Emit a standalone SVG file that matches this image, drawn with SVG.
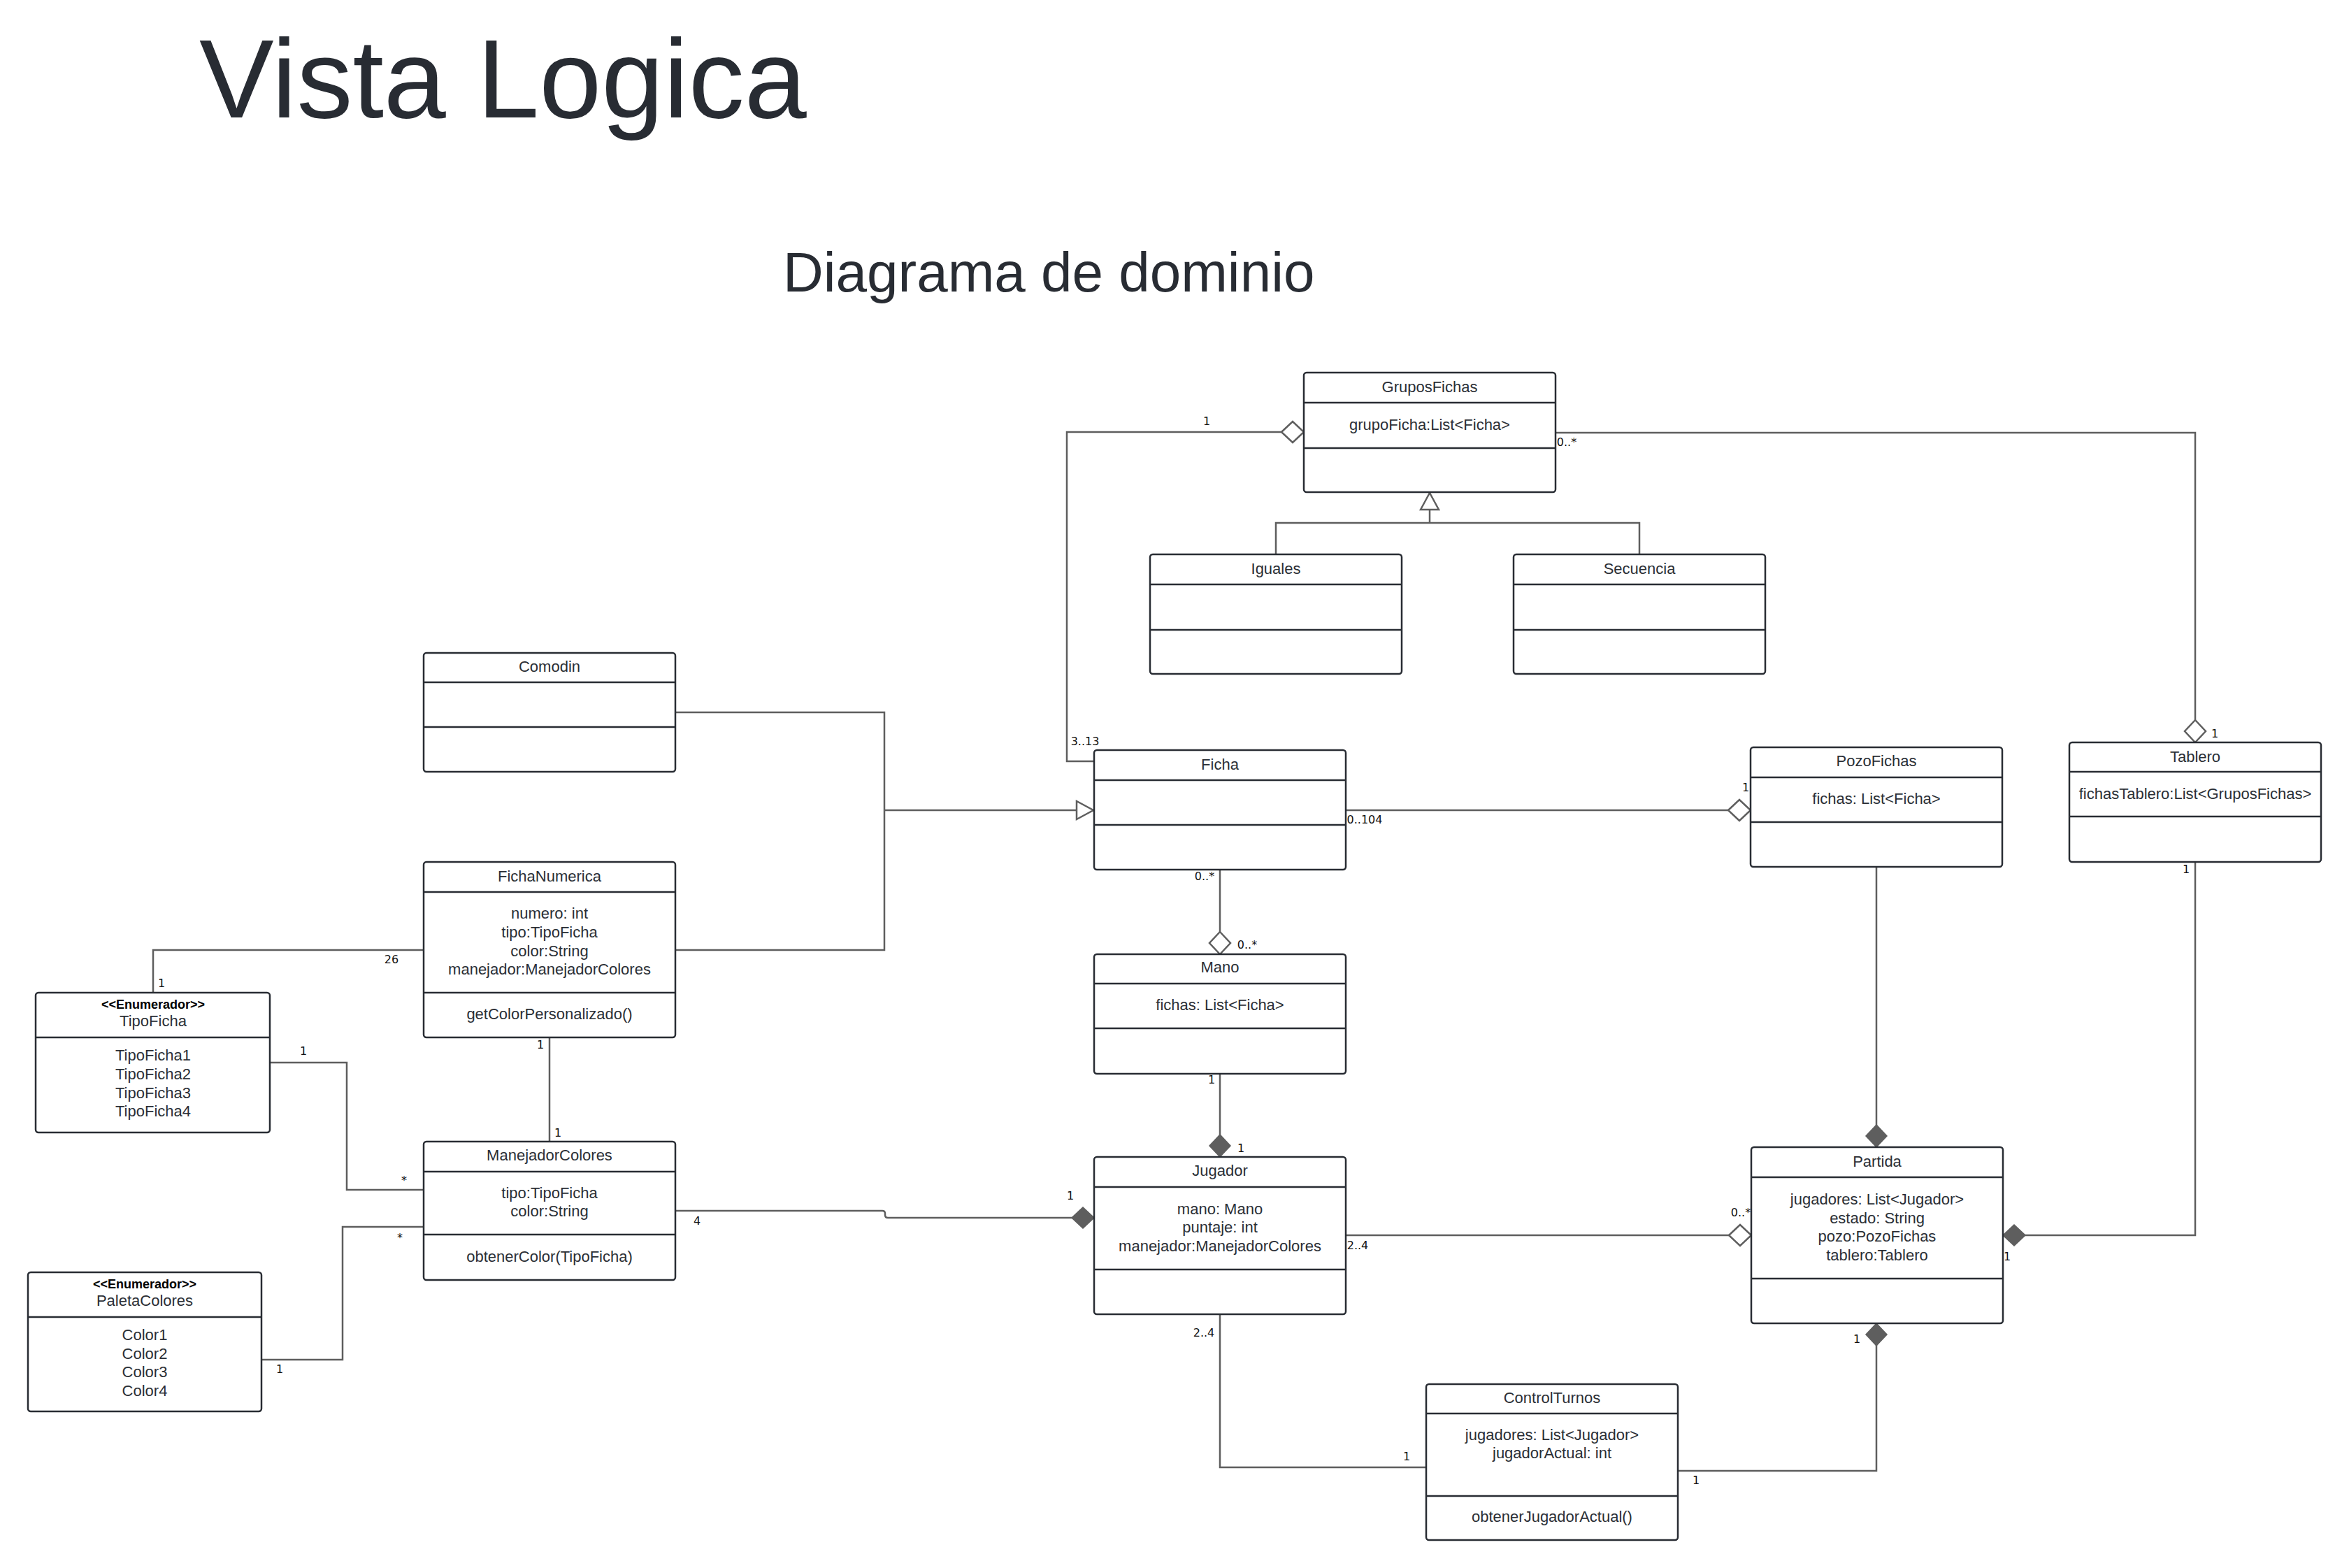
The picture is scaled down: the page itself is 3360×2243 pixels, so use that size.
<svg xmlns="http://www.w3.org/2000/svg" width="3360" height="2243" viewBox="0 0 3360 2243">
<style>
.box{fill:#fff;stroke:#282c33;stroke-width:2.5}
.sep{stroke:#282c33;stroke-width:2.5}
.t{font-family:"Liberation Sans",Arial,sans-serif;font-size:22px;fill:#2b2f36;text-anchor:middle;dominant-baseline:central}
.st{font-family:"Liberation Sans",Arial,sans-serif;font-size:18px;font-weight:bold;fill:#000;text-anchor:middle;dominant-baseline:central}
.conn path{fill:none;stroke:#5e5e5e;stroke-width:2.5}
.m{font-family:"DejaVu Sans","Liberation Sans",sans-serif;font-size:16px;fill:#111;text-anchor:middle;dominant-baseline:central}
.title{font-family:"Liberation Sans",Arial,sans-serif;fill:#282c33}
</style>
<defs>
<marker id="dOpen" viewBox="0 0 32 30" refX="32" refY="15" markerWidth="32" markerHeight="30" markerUnits="userSpaceOnUse" orient="auto" overflow="visible">
<path d="M0,15 L16,0 L32,15 L16,30 Z" fill="#fff" stroke="#5e5e5e" stroke-width="2.5"/>
</marker>
<marker id="dFill" viewBox="0 0 32 30" refX="32" refY="15" markerWidth="32" markerHeight="30" markerUnits="userSpaceOnUse" orient="auto" overflow="visible">
<path d="M0,15 L16,0 L32,15 L16,30 Z" fill="#5e5e5e" stroke="#5e5e5e" stroke-width="1.5"/>
</marker>
<marker id="tri" viewBox="0 0 26 28" refX="26" refY="14" markerWidth="26" markerHeight="28" markerUnits="userSpaceOnUse" orient="auto" overflow="visible">
<path d="M1,1 L25,14 L1,27 Z" fill="#fff" stroke="#5e5e5e" stroke-width="2.5"/>
</marker>
</defs>
<rect width="3360" height="2243" fill="#fff"/>
<text class="title" x="285" y="168" font-size="160">Vista Logica</text>
<text class="title" x="1120" y="417" font-size="80">Diagrama de dominio</text>

<g id="connectors" class="conn">
<path d="M1565,1089 H1526 V618 H1865" marker-end="url(#dOpen)"/>
<path d="M2225,619 H3140 V1062" marker-end="url(#dOpen)"/>
<path d="M1825,793 V748 H2345 V793"/>
<path d="M2045,748 V704" marker-end="url(#tri)"/>
<path d="M966,1019 H1265 V1359 H966"/>
<path d="M1265,1159 H1565" marker-end="url(#tri)"/>
<path d="M1925,1159 H2504" marker-end="url(#dOpen)"/>
<path d="M1745,1244 V1365" marker-end="url(#dOpen)"/>
<path d="M1745,1536 V1655" marker-end="url(#dFill)"/>
<path d="M219,1420 V1359 H606"/>
<path d="M786,1484 V1633"/>
<path d="M386,1520 H496 V1702 H606"/>
<path d="M374,1945 H490 V1755 H606"/>
<path d="M966,1732 H1262 Q1266,1732 1266,1736 V1738 Q1266,1742 1270,1742 H1565" marker-end="url(#dFill)"/>
<path d="M1925,1767 H2505" marker-end="url(#dOpen)"/>
<path d="M2684,1240 V1641" marker-end="url(#dFill)"/>
<path d="M3140,1233 V1767 H2865" marker-end="url(#dFill)"/>
<path d="M1745,1880 V2099 H2040"/>
<path d="M2400,2104 H2684 V1893" marker-end="url(#dFill)"/>
</g>

<g id="labels">
<text class="m" x="1726" y="602">1</text>
<text class="m" x="1552" y="1060">3..13</text>
<text class="m" x="2241" y="632">0..*</text>
<text class="m" x="3168" y="1049">1</text>
<text class="m" x="1952" y="1172">0..104</text>
<text class="m" x="2497" y="1126">1</text>
<text class="m" x="1723" y="1253">0..*</text>
<text class="m" x="1784" y="1351">0..*</text>
<text class="m" x="1733" y="1544">1</text>
<text class="m" x="1775" y="1642">1</text>
<text class="m" x="231" y="1406">1</text>
<text class="m" x="560" y="1372">26</text>
<text class="m" x="773" y="1494">1</text>
<text class="m" x="798" y="1620">1</text>
<text class="m" x="434" y="1503">1</text>
<text class="m" x="578" y="1688">*</text>
<text class="m" x="400" y="1958">1</text>
<text class="m" x="572" y="1770">*</text>
<text class="m" x="997" y="1746">4</text>
<text class="m" x="1531" y="1710">1</text>
<text class="m" x="1942" y="1781">2..4</text>
<text class="m" x="2490" y="1734">0..*</text>
<text class="m" x="3127" y="1243">1</text>
<text class="m" x="2871" y="1797">1</text>
<text class="m" x="1722" y="1906">2..4</text>
<text class="m" x="2012" y="2083">1</text>
<text class="m" x="2426" y="2117">1</text>
<text class="m" x="2656" y="1915">1</text>
</g>

<g id="GruposFichas">
<rect class="box" x="1865" y="533" width="360" height="171" rx="4"/>
<line class="sep" x1="1865" y1="576" x2="2225" y2="576"/>
<line class="sep" x1="1865" y1="641" x2="2225" y2="641"/>
<text class="t" x="2045" y="553">GruposFichas</text>
<text class="t" x="2045" y="607">grupoFicha:List&lt;Ficha&gt;</text>
</g>

<g id="Iguales">
<rect class="box" x="1645" y="793" width="360" height="171" rx="4"/>
<line class="sep" x1="1645" y1="836" x2="2005" y2="836"/>
<line class="sep" x1="1645" y1="901" x2="2005" y2="901"/>
<text class="t" x="1825" y="813">Iguales</text>
</g>

<g id="Secuencia">
<rect class="box" x="2165" y="793" width="360" height="171" rx="4"/>
<line class="sep" x1="2165" y1="836" x2="2525" y2="836"/>
<line class="sep" x1="2165" y1="901" x2="2525" y2="901"/>
<text class="t" x="2345" y="813">Secuencia</text>
</g>

<g id="Comodin">
<rect class="box" x="606" y="934" width="360" height="170" rx="4"/>
<line class="sep" x1="606" y1="976" x2="966" y2="976"/>
<line class="sep" x1="606" y1="1040" x2="966" y2="1040"/>
<text class="t" x="786" y="953">Comodin</text>
</g>

<g id="Ficha">
<rect class="box" x="1565" y="1073" width="360" height="171" rx="4"/>
<line class="sep" x1="1565" y1="1116" x2="1925" y2="1116"/>
<line class="sep" x1="1565" y1="1180" x2="1925" y2="1180"/>
<text class="t" x="1745" y="1093">Ficha</text>
</g>

<g id="PozoFichas">
<rect class="box" x="2504" y="1069" width="360" height="171" rx="4"/>
<line class="sep" x1="2504" y1="1112" x2="2864" y2="1112"/>
<line class="sep" x1="2504" y1="1176" x2="2864" y2="1176"/>
<text class="t" x="2684" y="1088">PozoFichas</text>
<text class="t" x="2684" y="1142">fichas: List&lt;Ficha&gt;</text>
</g>

<g id="Tablero">
<rect class="box" x="2960" y="1062" width="360" height="171" rx="4"/>
<line class="sep" x1="2960" y1="1104" x2="3320" y2="1104"/>
<line class="sep" x1="2960" y1="1168" x2="3320" y2="1168"/>
<text class="t" x="3140" y="1082">Tablero</text>
<text class="t" x="3140" y="1135">fichasTablero:List&lt;GruposFichas&gt;</text>
</g>

<g id="FichaNumerica">
<rect class="box" x="606" y="1233" width="360" height="251" rx="4"/>
<line class="sep" x1="606" y1="1276" x2="966" y2="1276"/>
<line class="sep" x1="606" y1="1420" x2="966" y2="1420"/>
<text class="t" x="786" y="1253">FichaNumerica</text>
<text class="t" x="786" y="1306">numero: int</text>
<text class="t" x="786" y="1333">tipo:TipoFicha</text>
<text class="t" x="786" y="1360">color:String</text>
<text class="t" x="786" y="1386">manejador:ManejadorColores</text>
<text class="t" x="786" y="1450">getColorPersonalizado()</text>
</g>

<g id="Mano">
<rect class="box" x="1565" y="1365" width="360" height="171" rx="4"/>
<line class="sep" x1="1565" y1="1407" x2="1925" y2="1407"/>
<line class="sep" x1="1565" y1="1471" x2="1925" y2="1471"/>
<text class="t" x="1745" y="1383">Mano</text>
<text class="t" x="1745" y="1437">fichas: List&lt;Ficha&gt;</text>
</g>

<g id="TipoFicha">
<rect class="box" x="51" y="1420" width="335" height="200" rx="4"/>
<line class="sep" x1="51" y1="1484" x2="386" y2="1484"/>
<text class="st" x="219" y="1437">&lt;&lt;Enumerador&gt;&gt;</text>
<text class="t" x="219" y="1460">TipoFicha</text>
<text class="t" x="219" y="1509">TipoFicha1</text>
<text class="t" x="219" y="1536">TipoFicha2</text>
<text class="t" x="219" y="1563">TipoFicha3</text>
<text class="t" x="219" y="1589">TipoFicha4</text>
</g>

<g id="ManejadorColores">
<rect class="box" x="606" y="1633" width="360" height="198" rx="4"/>
<line class="sep" x1="606" y1="1676" x2="966" y2="1676"/>
<line class="sep" x1="606" y1="1766" x2="966" y2="1766"/>
<text class="t" x="786" y="1652">ManejadorColores</text>
<text class="t" x="786" y="1706">tipo:TipoFicha</text>
<text class="t" x="786" y="1732">color:String</text>
<text class="t" x="786" y="1797">obtenerColor(TipoFicha)</text>
</g>

<g id="Jugador">
<rect class="box" x="1565" y="1655" width="360" height="225" rx="4"/>
<line class="sep" x1="1565" y1="1698" x2="1925" y2="1698"/>
<line class="sep" x1="1565" y1="1816" x2="1925" y2="1816"/>
<text class="t" x="1745" y="1674">Jugador</text>
<text class="t" x="1745" y="1729">mano: Mano</text>
<text class="t" x="1745" y="1755">puntaje: int</text>
<text class="t" x="1745" y="1782">manejador:ManejadorColores</text>
</g>

<g id="Partida">
<rect class="box" x="2505" y="1641" width="360" height="252" rx="4"/>
<line class="sep" x1="2505" y1="1684" x2="2865" y2="1684"/>
<line class="sep" x1="2505" y1="1829" x2="2865" y2="1829"/>
<text class="t" x="2685" y="1661">Partida</text>
<text class="t" x="2685" y="1715">jugadores: List&lt;Jugador&gt;</text>
<text class="t" x="2685" y="1742">estado: String</text>
<text class="t" x="2685" y="1768">pozo:PozoFichas</text>
<text class="t" x="2685" y="1795">tablero:Tablero</text>
</g>

<g id="PaletaColores">
<rect class="box" x="40" y="1820" width="334" height="199" rx="4"/>
<line class="sep" x1="40" y1="1884" x2="374" y2="1884"/>
<text class="st" x="207" y="1837">&lt;&lt;Enumerador&gt;&gt;</text>
<text class="t" x="207" y="1860">PaletaColores</text>
<text class="t" x="207" y="1909">Color1</text>
<text class="t" x="207" y="1936">Color2</text>
<text class="t" x="207" y="1962">Color3</text>
<text class="t" x="207" y="1989">Color4</text>
</g>

<g id="ControlTurnos">
<rect class="box" x="2040" y="1980" width="360" height="223" rx="4"/>
<line class="sep" x1="2040" y1="2022" x2="2400" y2="2022"/>
<line class="sep" x1="2040" y1="2140" x2="2400" y2="2140"/>
<text class="t" x="2220" y="1999">ControlTurnos</text>
<text class="t" x="2220" y="2052">jugadores: List&lt;Jugador&gt;</text>
<text class="t" x="2220" y="2078">jugadorActual: int</text>
<text class="t" x="2220" y="2169" fill="#000">obtenerJugadorActual()</text>
</g>
</svg>
